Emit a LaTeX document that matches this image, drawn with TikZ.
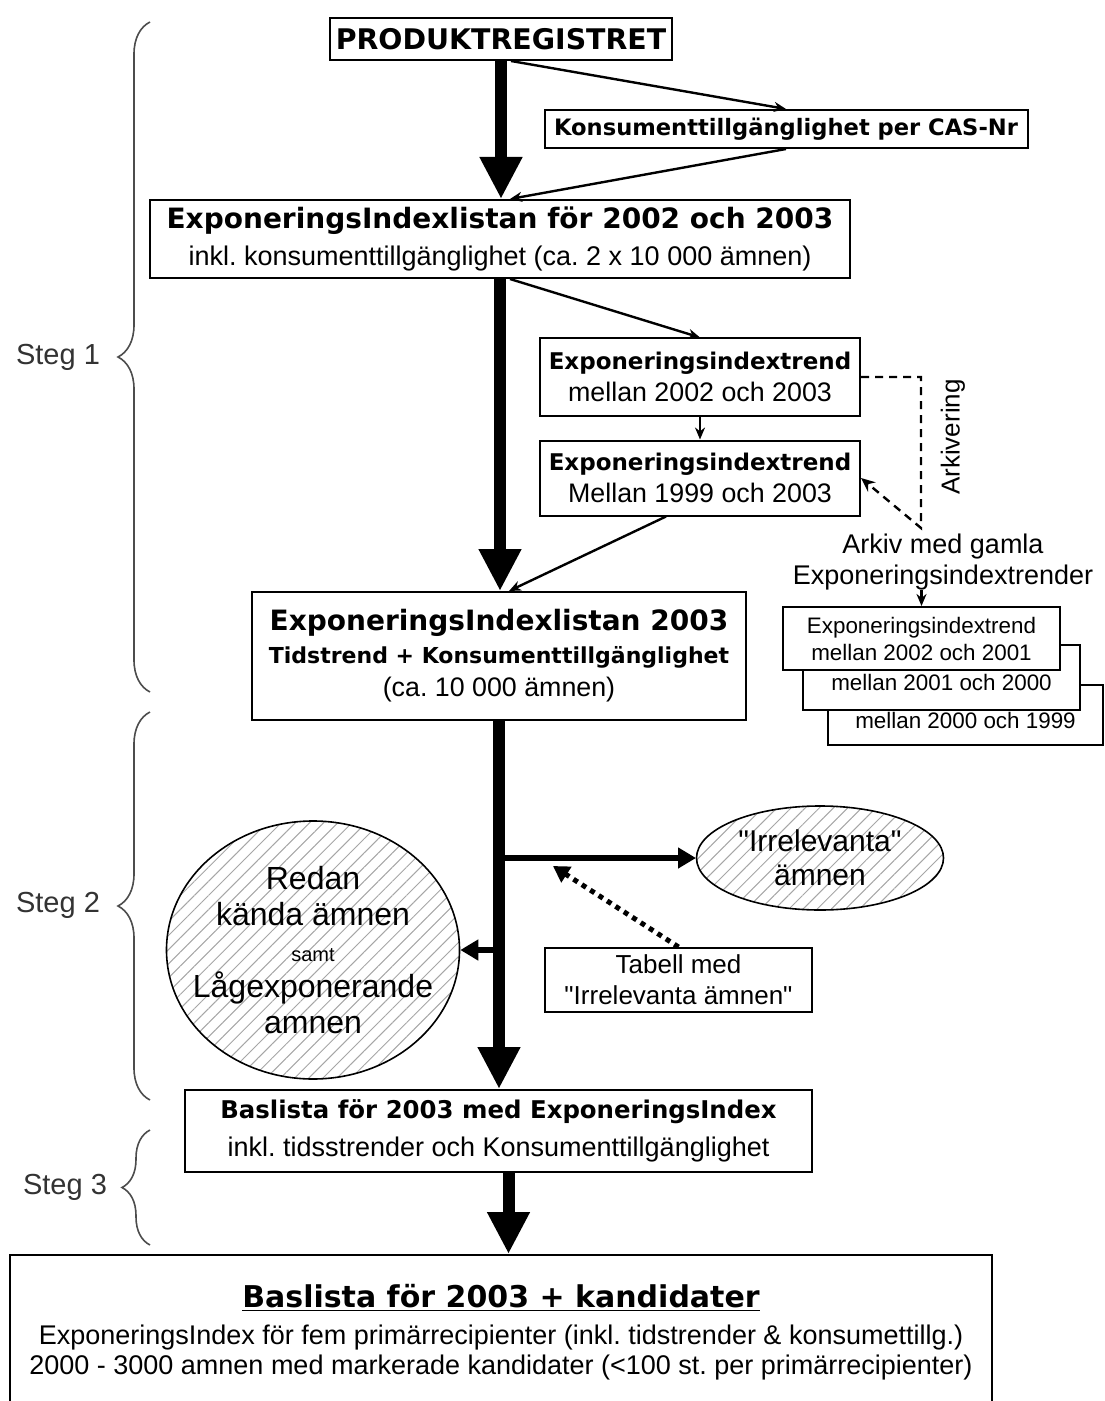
\documentclass[tikz,border=0pt]{standalone}
\usepackage{fontspec}
\setmainfont{Liberation Sans}
\newfontfamily\heavy{DejaVu Sans}
\newfontfamily\quotefont{Liberation Sans}
\usetikzlibrary{arrows.meta,positioning,calc,shapes.geometric,patterns.meta,decorations.pathreplacing}
\newcommand{\setfs}[2]{\fontsize{#1}{#2}\selectfont}
\newcommand{\heavybf}{\heavy\bfseries}
\newcommand{\qt}{{\quotefont\symbol{34}}}
\frenchspacing

\begin{document}
\begin{tikzpicture}[x=0.5pt,y=-0.5pt,
  box/.style={draw,line width=1pt,fill=white,inner sep=0pt,align=center},
  hatched/.style={ellipse,draw,line width=0.8pt,inner sep=0pt,align=center,
                  pattern={Lines[angle=45,distance=5pt,line width=0.5pt]},pattern color=black!35},
  bigarrow/.style={line width=6pt,-{Triangle[width=20pt,length=21pt]}},
  midarrow/.style={line width=3pt,-{Triangle[width=10pt,length=9pt]}},
  thinarrow/.style={line width=1.2pt,-{Stealth[length=6pt,width=5pt]}},
  dasharrow/.style={line width=1.2pt,dash pattern=on 4pt off 3pt,-{Stealth[length=7pt,width=6pt]}},
  dotarrow/.style={line width=2.5pt,dash pattern=on 2.5pt off 2.5pt,-{Triangle[width=9pt,length=8pt]}},
  stegbrace/.style={decorate,decoration={brace,amplitude=16pt},line width=0.8pt,draw=black!70},
  steglabel/.style={font=\setfs{14.5}{16},text=black!80}
]
\useasboundingbox (0,0) rectangle (1104,1401);

% steg 1
\node[box,minimum width=171pt,minimum height=21pt,font=\heavybf\setfs{14.2}{16}] (prod) at (501,39) {PRODUKTREGISTRET};
\node[box,minimum width=241.5pt,minimum height=19pt,font=\heavybf\setfs{11.3}{13}] (cas) at (786,129) {Konsumenttillgänglighet per CAS-Nr};
\node[box,minimum width=350pt,minimum height=39pt,font=\setfs{13.5}{18.5}] (list0203) at (500,239)
  {\heavybf\setfs{14}{18.5}ExponeringsIndexlistan för 2002 och 2003\\ inkl. konsumenttillgänglighet (ca. 2 x 10 000 ämnen)};
\node[box,minimum width=160pt,minimum height=38.5pt,font=\setfs{13.4}{16}] (trend1) at (700,377)
  {\heavybf\setfs{11.5}{16}Exponeringsindextrend\\ mellan 2002 och 2003};
\node[box,minimum width=160pt,minimum height=37.5pt,font=\setfs{13.4}{16}] (trend2) at (700,478)
  {\heavybf\setfs{11.5}{16}Exponeringsindextrend\\ Mellan 1999 och 2003};
\node[font=\setfs{13.5}{15.5},align=center,inner sep=0pt] (arkiv) at (943,562) {Arkiv med gamla\\ Exponeringsindextrender};
\node[rotate=90,font=\setfs{13}{14},inner sep=0pt] (arkivering) at (953,437) {Arkivering};

% arkiv
\node[box,minimum width=137.5pt,minimum height=30pt,font=\setfs{11.2}{13.5}] (old3) at (965.5,715) {\mbox{}\\ mellan 2000 och 1999};
\node[box,minimum width=138.5pt,minimum height=32.5pt,font=\setfs{11.2}{13.5}] (old2) at (941.5,677.5) {\mbox{}\\ mellan 2001 och 2000};
\node[box,minimum width=138.5pt,minimum height=31.5pt,font=\setfs{11.2}{13.5}] (old1) at (921.5,638.5) {Exponeringsindextrend\\ mellan 2002 och 2001};

\node[box,minimum width=247pt,minimum height=64pt,font=\setfs{13.4}{16.5}] (list03) at (499,656)
  {\heavybf\setfs{14}{16.5}ExponeringsIndexlistan 2003\\ \heavybf\setfs{11}{16.5}Tidstrend + Konsumenttillgänglighet\\ (ca. 10 000 ämnen)};

% steg 2
\node[hatched,minimum width=123.5pt,minimum height=52pt,font=\setfs{15}{17}] (irr) at (820,858) {\qt Irrelevanta\qt\\ ämnen};
\node[hatched,inner xsep=-20pt,inner ysep=-10pt,minimum width=146.5pt,minimum height=129pt,font=\setfs{16}{18}] (redan) at (313,950)
  {Redan\\ kända ämnen\\ \setfs{10}{18}samt\\ Lågexponerande\\ amnen};
\node[box,minimum width=133.5pt,minimum height=32pt,font=\setfs{13}{15.5}] (tabell) at (678.5,980) {Tabell med\\ \qt Irrelevanta ämnen\qt};

% steg 3
\node[box,minimum width=313.5pt,minimum height=41pt,font=\setfs{13.5}{19}] (base) at (498.5,1131)
  {\heavybf\setfs{12.2}{19}Baslista för 2003 med ExponeringsIndex\\ inkl. tidsstrender och Konsumenttillgänglighet};
\node[box,minimum width=491pt,minimum height=77pt,font=\setfs{13.5}{15}] (final) at (501,1332)
  {\heavybf\setfs{15}{15}\underline{Baslista för 2003 + kandidater}\\[3.5pt]
   ExponeringsIndex för fem primärrecipienter (inkl. tidstrender \& konsumettillg.)\\
   2000 - 3000 amnen med markerade kandidater (<100 st. per primärrecipienter)};

% braces
\draw[stegbrace] (150,692) -- (150,22);
\node[steglabel] (steg1) at (58,357) {Steg 1};
\draw[stegbrace] (150,1100) -- (150,712);
\node[steglabel] (steg2) at (58,905) {Steg 2};
\draw[stegbrace,decoration={brace,amplitude=14pt}] (150,1245) -- (150,1130);
\node[steglabel] (steg3) at (65,1187) {Steg 3};

% main flow
\draw[bigarrow] (prod.south) -- (prod.south |- list0203.north);
\draw[bigarrow] (list0203.south) -- (list0203.south |- list03.north);
\draw[bigarrow] (list03.south) -- (list03.south |- base.north);
\draw[bigarrow] ([xshift=5pt]base.south) -- ([xshift=5pt]base.south |- final.north);

\coordinate (br1) at (list03.south |- irr.west);
\coordinate (br2) at (list03.south |- redan.east);
\draw[midarrow] (br1) -- (irr.west);
\draw[midarrow] (br2) -- (redan.east);
\coordinate (dotend) at (553,866);
\draw[dotarrow] (tabell.north) -- (dotend);

% side flow
\draw[thinarrow] ([xshift=5pt]prod.south) -- (cas.north);
\draw[thinarrow] (cas.south) -- ([xshift=5pt]list0203.north);
\draw[thinarrow] ([xshift=5pt]list0203.south) -- (trend1.north);
\draw[thinarrow] (trend1.south) -- (trend2.north);
\draw[thinarrow] ([xshift=-17pt]trend2.south) -- ([xshift=5pt]list03.north);
\coordinate (arkpt) at (921,528);
\draw[dasharrow] (trend1.east) -| (arkpt) -- (trend2.east);
\draw[thinarrow] (arkiv.south -| old1.north) -- (old1.north);
\end{tikzpicture}
\end{document}
